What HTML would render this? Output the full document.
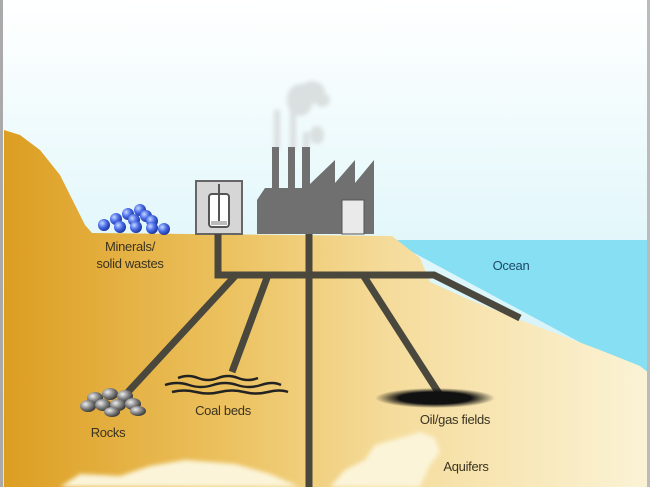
<!DOCTYPE html>
<html><head><meta charset="utf-8"><style>
html,body{margin:0;padding:0;background:#fff}
svg{display:block}
text{font-family:"Liberation Sans",sans-serif;font-size:13px;fill:#3a3320;letter-spacing:-0.3px}
</style></head><body>
<svg width="650" height="487" viewBox="0 0 650 487" xmlns="http://www.w3.org/2000/svg">
<defs>
<linearGradient id="sky" x1="0" y1="0" x2="0" y2="1">
<stop offset="0" stop-color="#ffffff"/><stop offset="0.5" stop-color="#e2f7fb"/><stop offset="1" stop-color="#c4eff8"/></linearGradient>
<linearGradient id="ground" x1="0" y1="0" x2="1" y2="0">
<stop offset="0" stop-color="#dc9e22"/><stop offset="0.35" stop-color="#ecc260"/><stop offset="0.6" stop-color="#f5dc9c"/><stop offset="1" stop-color="#fbf3d6"/></linearGradient>
<radialGradient id="ball" cx="0.35" cy="0.35" r="0.7"><stop offset="0" stop-color="#c8d8ff"/><stop offset="0.5" stop-color="#4a6ee8"/><stop offset="1" stop-color="#1a2f9a"/></radialGradient>
<radialGradient id="rock" cx="0.35" cy="0.35" r="0.7"><stop offset="0" stop-color="#eeeeee"/><stop offset="0.5" stop-color="#888"/><stop offset="1" stop-color="#333"/></radialGradient>
<radialGradient id="oil" cx="0.5" cy="0.5" r="0.5"><stop offset="0.6" stop-color="#111"/><stop offset="1" stop-color="#111" stop-opacity="0"/></radialGradient>
<filter id="blur"><feGaussianBlur stdDeviation="2"/></filter>
</defs>
<rect width="650" height="487" fill="url(#sky)"/>
<path d="M390,240 L650,240 L650,380 Z" fill="#86dff2"/>
<path d="M4,130 L20,135 L40,150 L60,175 L75,205 L85,225 L92,233 L392,236 L420,258 L430,282 L470,300 L520,320 L560,335 L600,350 L640,366 L650,374 L650,487 L4,487 Z" fill="url(#ground)"/>
<g fill="#fbf4d8" filter="url(#blur)">
<path d="M60,487 L80,474 L120,476 L150,466 L185,460 L235,464 L270,474 L300,487 Z"/>
<path d="M330,487 L345,470 L365,460 L375,445 L400,438 L420,432 L435,438 L440,452 L430,465 L420,487 Z"/>
</g>
<rect x="0" y="0" width="3" height="487" fill="#aaa"/>
<rect x="647" y="0" width="3" height="487" fill="#bbb"/>
<g fill="#d8dcdc" filter="url(#blur)" opacity="0.9">
<ellipse cx="300" cy="100" rx="13" ry="16"/><ellipse cx="312" cy="92" rx="13" ry="11"/><ellipse cx="322" cy="100" rx="8" ry="7"/>
<rect x="274" y="110" width="6" height="40"/><rect x="290" y="110" width="6" height="40"/>
<ellipse cx="317" cy="135" rx="7" ry="9"/><rect x="303" y="132" width="6" height="18"/>
</g>
<path d="M257,200 L265,188 L272,188 L272,147 L279,147 L279,188 L288,188 L288,147 L295,147 L295,188 L302,188 L302,147 L310,147 L310,184 L335,160 L335,183 L355,160 L355,183 L374,160 L374,234 L257,234 Z" fill="#707070"/>
<rect x="342" y="200" width="22" height="34" fill="#eaeaea" stroke="#555" stroke-width="1"/>
<rect x="196" y="181" width="46" height="53" fill="#d6d6d6" stroke="#666" stroke-width="2"/>
<rect x="209" y="194" width="20" height="33" rx="3" fill="#fff" stroke="#555" stroke-width="2"/>
<line x1="219" y1="184" x2="219" y2="222" stroke="#555" stroke-width="2"/>
<rect x="211" y="221" width="16" height="4" fill="#bbb"/>
<g stroke="#4a473c" stroke-width="7" fill="none" stroke-linecap="butt" stroke-linejoin="miter">
<path d="M218,234 L218,275 L434,275 L520,318"/>
<line x1="309" y1="234" x2="309" y2="487"/>
<line x1="236" y1="275" x2="128" y2="392"/>
<line x1="268" y1="275" x2="232" y2="372"/>
<line x1="363" y1="275" x2="440" y2="395"/>
</g>
<ellipse cx="435" cy="398" rx="60" ry="10" fill="url(#oil)"/>
<g stroke="#222" stroke-width="2.5" fill="none">
<path d="M178,378 q10,-4 20,0 t20,0 t20,0 t20,0"/>
<path d="M165,385 q12,-4 24,0 t24,0 t24,0 t24,0 t20,0"/>
<path d="M172,392 q12,-3 24,0 t24,0 t24,0 t24,0 t20,0"/>
</g>
<g fill="url(#rock)">
<ellipse cx="95" cy="398" rx="8" ry="6"/><ellipse cx="110" cy="394" rx="8" ry="6"/><ellipse cx="125" cy="396" rx="8" ry="6"/>
<ellipse cx="88" cy="406" rx="8" ry="6"/><ellipse cx="103" cy="405" rx="8" ry="6"/><ellipse cx="118" cy="405" rx="8" ry="6"/><ellipse cx="133" cy="404" rx="8" ry="6"/>
<ellipse cx="112" cy="412" rx="8" ry="5"/><ellipse cx="138" cy="411" rx="8" ry="5"/>
</g>
<g fill="url(#ball)">
<circle cx="140" cy="210" r="6"/>
<circle cx="128" cy="214" r="6"/><circle cx="146" cy="216" r="6"/>
<circle cx="116" cy="219" r="6"/><circle cx="134" cy="220" r="6"/><circle cx="152" cy="221" r="6"/>
<circle cx="104" cy="225" r="6"/><circle cx="120" cy="227" r="6"/><circle cx="136" cy="227" r="6"/><circle cx="152" cy="228" r="6"/><circle cx="164" cy="229" r="6"/>
</g>
<text x="130" y="251" text-anchor="middle">Minerals/</text>
<text x="130" y="268" text-anchor="middle">solid wastes</text>
<text x="511" y="270" text-anchor="middle" style="fill:#1d4a66">Ocean</text>
<text x="108" y="437" text-anchor="middle">Rocks</text>
<text x="223" y="415" text-anchor="middle">Coal beds</text>
<text x="455" y="424" text-anchor="middle">Oil/gas fields</text>
<text x="466" y="471" text-anchor="middle">Aquifers</text>
</svg>
</body></html>
